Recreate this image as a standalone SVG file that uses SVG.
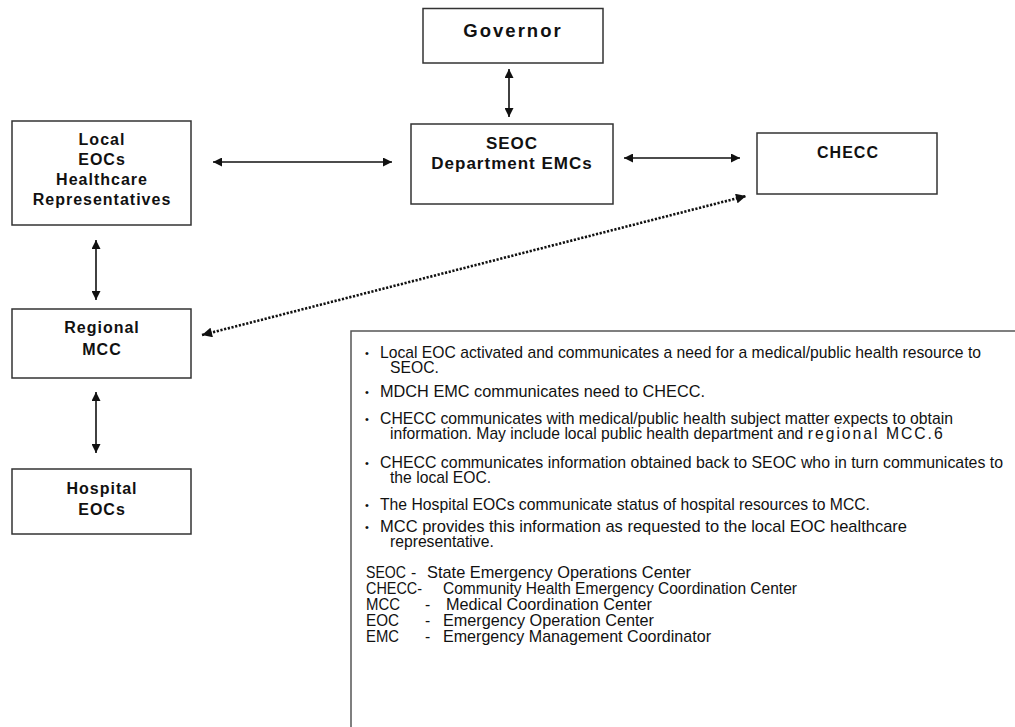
<svg xmlns="http://www.w3.org/2000/svg" width="1015" height="727" viewBox="0 0 1015 727">
<style>
.box{fill:#fff;stroke:#333;stroke-width:1.5}
.nt{font-family:"Liberation Sans",Arial,sans-serif;font-weight:bold;font-size:16px;letter-spacing:1px;fill:#111;text-anchor:middle}
.con{stroke:#111;stroke-width:1.6;fill:none}
.dot{stroke:#111;stroke-width:2.6;fill:none;stroke-dasharray:2.2 1.6}
.lt{font-family:"Liberation Sans",Arial,sans-serif;font-size:15.7px;fill:#111}
.bul{font-family:"Liberation Sans",Arial,sans-serif;font-size:11px;fill:#111}
</style>
<defs>
<marker id="ah" viewBox="0 0 10 10" refX="10" refY="5" markerWidth="10" markerHeight="9" markerUnits="userSpaceOnUse" orient="auto-start-reverse">
<path d="M0,0 L10,5 L0,10 z" fill="#111"/>
</marker>
<marker id="ahd" viewBox="0 0 10 10" refX="10" refY="5" markerWidth="11" markerHeight="10" markerUnits="userSpaceOnUse" orient="auto-start-reverse">
<path d="M0,0 L10,5 L0,10 z" fill="#111"/>
</marker>
</defs>
<rect width="1015" height="727" fill="#fff"/>

<g id="governor">
<rect class="box" x="423" y="8.5" width="180" height="54.5"/>
<text class="nt" x="513" y="37" style="font-size:18.5px;letter-spacing:2px">Governor</text>
</g>
<g id="seoc">
<rect class="box" x="411" y="124" width="202" height="80"/>
<text class="nt" x="512" y="149" style="font-size:17px">SEOC</text>
<text class="nt" x="512" y="169" style="font-size:17px">Department EMCs</text>
</g>
<g id="local">
<rect class="box" x="12" y="121" width="179" height="104"/>
<text class="nt" x="102" y="145">Local</text>
<text class="nt" x="102" y="165">EOCs</text>
<text class="nt" x="102" y="185">Healthcare</text>
<text class="nt" x="102" y="205">Representatives</text>
</g>
<g id="checc">
<rect class="box" x="757" y="133" width="180" height="61"/>
<text class="nt" x="848" y="158">CHECC</text>
</g>
<g id="regional">
<rect class="box" x="12" y="309" width="179" height="69"/>
<text class="nt" x="102" y="333">Regional</text>
<text class="nt" x="102" y="355">MCC</text>
</g>
<g id="hospital">
<rect class="box" x="12" y="469" width="179" height="65"/>
<text class="nt" x="102" y="494">Hospital</text>
<text class="nt" x="102" y="515">EOCs</text>
</g>

<g id="connectors">
<line class="con" x1="509" y1="69" x2="509" y2="117" marker-start="url(#ah)" marker-end="url(#ah)"/>
<line class="con" x1="213" y1="162" x2="392" y2="162" marker-start="url(#ah)" marker-end="url(#ah)"/>
<line class="con" x1="624" y1="158" x2="740" y2="158" marker-start="url(#ah)" marker-end="url(#ah)"/>
<line class="con" x1="96" y1="240" x2="96" y2="300" marker-start="url(#ah)" marker-end="url(#ah)"/>
<line class="con" x1="96" y1="392" x2="96" y2="453" marker-start="url(#ah)" marker-end="url(#ah)"/>
<line class="dot" x1="202" y1="335" x2="746" y2="196" marker-start="url(#ahd)" marker-end="url(#ahd)"/>
</g>

<g id="legend">
<rect x="351" y="331" width="700" height="420" fill="#fff" stroke="#555" stroke-width="1.5"/>
<text class="bul" x="365" y="357">•</text>
<text class="lt" x="380" y="358" textLength="601" lengthAdjust="spacingAndGlyphs">Local EOC activated and communicates a need for a medical/public health resource to</text>
<text class="lt" x="390" y="373">SEOC.</text>
<text class="bul" x="365" y="396">•</text>
<text class="lt" x="380" y="397" textLength="325" lengthAdjust="spacingAndGlyphs">MDCH EMC communicates need to CHECC.</text>
<text class="bul" x="365" y="423">•</text>
<text class="lt" x="380" y="424" textLength="573" lengthAdjust="spacingAndGlyphs">CHECC communicates with medical/public health subject matter expects to obtain</text>
<text class="lt" x="390" y="439">information. May include local public health department and <tspan style="letter-spacing:2px">regional MCC.6</tspan></text>
<text class="bul" x="365" y="467">•</text>
<text class="lt" x="380" y="468" textLength="623" lengthAdjust="spacingAndGlyphs">CHECC communicates information obtained back to SEOC who in turn communicates to</text>
<text class="lt" x="390" y="483">the local EOC.</text>
<text class="bul" x="365" y="509">•</text>
<text class="lt" x="380" y="510" textLength="490" lengthAdjust="spacingAndGlyphs">The Hospital EOCs communicate status of hospital resources to MCC.</text>
<text class="bul" x="365" y="531">•</text>
<text class="lt" x="380" y="532" textLength="527" lengthAdjust="spacingAndGlyphs">MCC provides this information as requested to the local EOC healthcare</text>
<text class="lt" x="390" y="547">representative.</text>
<text class="lt" x="366" y="578" textLength="40" lengthAdjust="spacingAndGlyphs">SEOC</text><text class="lt" x="411" y="578">-</text><text class="lt" x="427" y="578" textLength="264" lengthAdjust="spacingAndGlyphs">State Emergency Operations Center</text>
<text class="lt" x="366" y="594" textLength="56" lengthAdjust="spacingAndGlyphs">CHECC-</text><text class="lt" x="443" y="594" textLength="354" lengthAdjust="spacingAndGlyphs">Community Health Emergency Coordination Center</text>
<text class="lt" x="366" y="610" textLength="34" lengthAdjust="spacingAndGlyphs">MCC</text><text class="lt" x="425" y="610">-</text><text class="lt" x="446" y="610" textLength="206" lengthAdjust="spacingAndGlyphs">Medical Coordination Center</text>
<text class="lt" x="366" y="626" textLength="33" lengthAdjust="spacingAndGlyphs">EOC</text><text class="lt" x="425" y="626">-</text><text class="lt" x="443" y="626" textLength="211" lengthAdjust="spacingAndGlyphs">Emergency Operation Center</text>
<text class="lt" x="366" y="642" textLength="33" lengthAdjust="spacingAndGlyphs">EMC</text><text class="lt" x="425" y="642">-</text><text class="lt" x="443" y="642" textLength="268" lengthAdjust="spacingAndGlyphs">Emergency Management Coordinator</text>
</g>
</svg>
